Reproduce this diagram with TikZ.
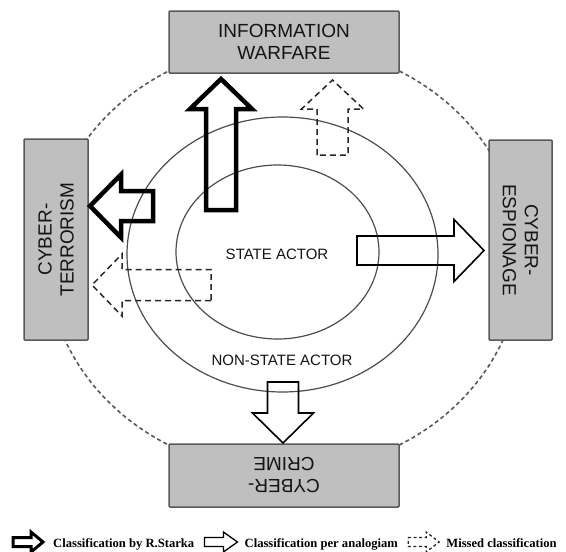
\documentclass[tikz,border=0pt]{standalone}
\usepackage{fontspec}
\newfontfamily\boxfont{Liberation Sans}
\newfontfamily\legfont{Liberation Serif}
\tikzset{
  x=1pt, y=-1pt,
  pics/barrow/.style n args={4}{code={
    % block arrow: total length #1, shaft width #2, head width #3, head length #4
    \draw[pic actions] (0,{-#2/2}) -- ({#1-#4},{-#2/2}) -- ({#1-#4},{-#3/2})
      -- (#1,0) -- ({#1-#4},{#3/2}) -- ({#1-#4},{#2/2}) -- (0,{#2/2}) -- cycle;
  }},
  catbox/.style={draw=black!65, line width=1.5pt, fill=black!25, rounded corners=1pt,
    align=center, text=black!92, inner sep=0pt,
    font=\boxfont\fontsize{19}{22}\selectfont},
  ring/.style={draw=black!70, line width=1.2pt},
  outer/.style={draw=black!65, line width=1.6pt, dash pattern=on 4pt off 3pt},
  starka/.style={draw=black, line width=4.5pt, line join=miter},
  analog/.style={draw=black, line width=1.6pt, line join=miter},
  missed/.style={draw=black!85, line width=1.5pt, dash pattern=on 6pt off 4pt, line join=miter},
  actor/.style={text=black!92, font=\boxfont\fontsize{15}{17}\selectfont, inner sep=0pt},
  legtext/.style={inner sep=0pt, text=black, font=\legfont\bfseries\fontsize{12.6}{14}\selectfont},
}
\begin{document}
\begin{tikzpicture}
\useasboundingbox (0,0) rectangle (566,552);

% outer dashed orbit, partly hidden by the category boxes
\coordinate (oc) at (284,258);
\draw[outer] (oc) ellipse [x radius=237, y radius=214];

% category boxes
\node[catbox, minimum width=230pt, minimum height=62pt] (iw) at (284,42) {INFORMATION\\WARFARE};
\node[catbox, rotate=90, minimum width=201pt, minimum height=64pt] (ct) at (56,239.5) {CYBER-\\TERRORISM};
\node[catbox, rotate=-90, minimum width=200pt, minimum height=63pt] (ce) at (520.5,240) {CYBER-\\ESPIONAGE};
\node[catbox, rotate=180, minimum width=230pt, minimum height=63pt] (cc) at (284,475.5) {CYBER-\\CRIME};

% actor rings
\coordinate (mc) at (282.5,254.5);
\coordinate (ic) at (277.5,252);
\draw[ring] (mc) ellipse [x radius=155.5, y radius=137.5];
\draw[ring] (ic) ellipse [x radius=101.5, y radius=87];

\node[actor] (state) at (277,254) {STATE ACTOR};
\node[actor] (nonstate) at (282,360) {NON-STATE ACTOR};

% classification arrows
\pic[starka, rotate=90]  at (221,210) {barrow={131}{30}{62}{30}};
\pic[starka, rotate=180] at (153,206) {barrow={63}{30}{63}{31}};
\pic[analog]             at (357,250.5) {barrow={127}{29}{62}{30}};
\pic[analog, rotate=-90] at (283,382) {barrow={61}{31}{61}{30}};
\pic[missed, rotate=90]  at (332.5,155) {barrow={75}{31}{62}{29}};
\pic[missed, rotate=180] at (211,285) {barrow={119}{31}{62}{30}};

% legend
\pic[draw=black, line width=3pt, line join=miter] at (13,542) {barrow={30}{9}{20}{12}};
\node[legtext, anchor=base west] (l1) at (53,547) {Classification by R.Starka};
\coordinate (i2) at ([xshift=10pt, yshift=5pt]l1.base east);
\pic[draw=black, line width=1.3pt, line join=miter] at (i2) {barrow={33}{9}{20}{14}};
\node[legtext, anchor=base west] (l2) at ([xshift=40pt, yshift=-5pt]i2) {Classification per analogiam};
\coordinate (i3) at ([xshift=10pt, yshift=5pt]l2.base east);
\pic[draw=black!85, line width=1.3pt, dash pattern=on 3pt off 2.5pt, line join=miter] at (i3) {barrow={31}{9}{20}{13}};
\node[legtext, anchor=base west] (l3) at ([xshift=38pt, yshift=-5pt]i3) {Missed classification};
\end{tikzpicture}
\end{document}
